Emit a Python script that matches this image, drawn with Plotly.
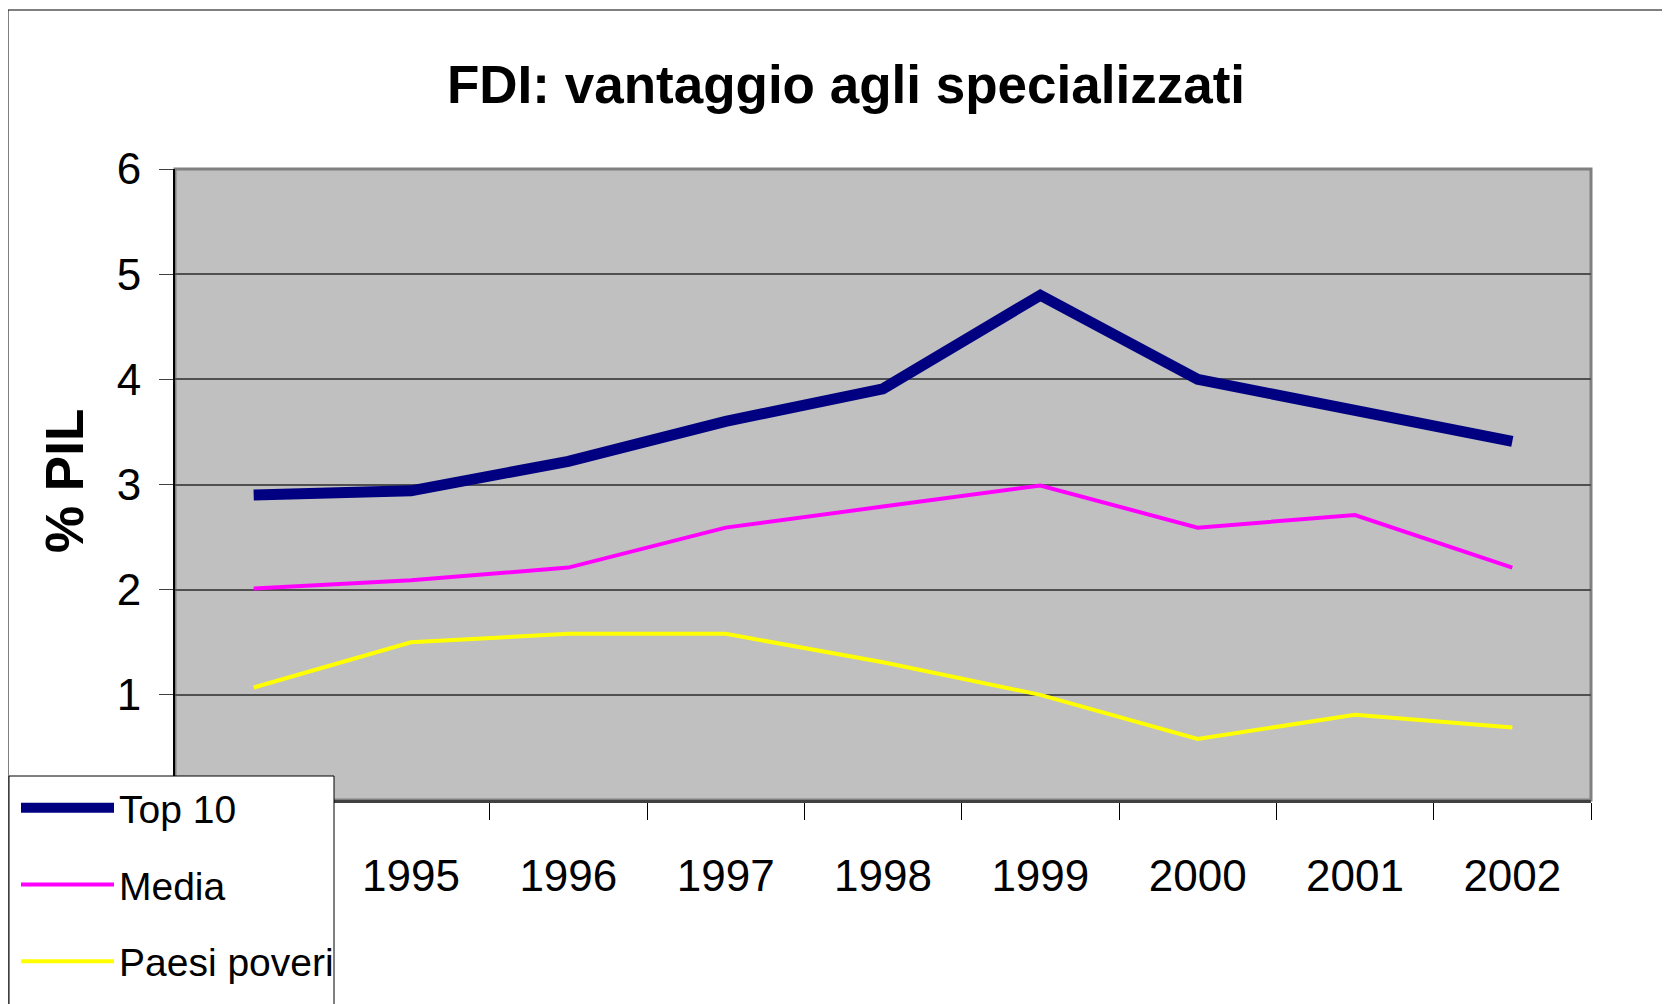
import plotly.graph_objects as go

years = ["1994", "1995", "1996", "1997", "1998", "1999", "2000", "2001", "2002"]
year_labels = ["", "1995", "1996", "1997", "1998", "1999", "2000", "2001", "2002"]
top10 = [2.90, 2.94, 3.22, 3.60, 3.91, 4.80, 4.00, 3.71, 3.41]
media = [2.01, 2.09, 2.21, 2.59, 2.79, 2.99, 2.59, 2.71, 2.21]
poveri = [1.07, 1.50, 1.58, 1.58, 1.31, 1.00, 0.58, 0.81, 0.69]
y_ticks = [1, 2, 3, 4, 5, 6]

SANS = "Liberation Sans, Arial, sans-serif"

# the page body has an 8px margin; work in screen pixels and shift
OFF = 8
W, H = 1670 - OFF, 1004 - OFF
L = 175 - OFF
T = 169 - OFF
R = W - (1591 - OFF)
B = H - (800 - OFF)
PW, PH = W - L - R, H - T - B


def px_x(x):  # screen x -> paper x
    return (x - OFF - L) / PW


def px_y(y):  # screen y -> paper y
    return (H - B - (y - OFF)) / PH


fig = go.Figure()
fig.add_trace(go.Scatter(x=years, y=top10, name="Top 10", mode="lines",
                         line=dict(color="#000080", width=11), legendgroup="a"))
fig.add_trace(go.Scatter(x=years, y=media, name="Media", mode="lines",
                         line=dict(color="#FF00FF", width=4), legendgroup="b"))
fig.add_trace(go.Scatter(x=years, y=poveri, name="Paesi poveri", mode="lines",
                         line=dict(color="#FFFF00", width=4), legendgroup="c"))

fig.update_layout(
    width=W, height=H, autosize=False,
    margin=dict(l=L, r=R, t=T, b=B, autoexpand=False),
    paper_bgcolor="white", plot_bgcolor="#C0C0C0",
    title=dict(text="<b>FDI: vantaggio agli specializzati</b>",
               font=dict(family=SANS, size=53, color="black"),
               x=(846 - OFF) / W, xanchor="center", y=1 - (84 - OFF) / H, yanchor="middle"),
    showlegend=True,
    legend=dict(x=px_x(16), xanchor="left", y=px_y(776), yanchor="top",
                bgcolor="rgba(0,0,0,0)", borderwidth=0,
                font=dict(family=SANS, size=39, color="black"),
                itemwidth=93, tracegroupgap=23, traceorder="grouped"),
    xaxis=dict(type="category", range=[-0.5, 8.5], tickson="boundaries",
               tickmode="array", tickvals=years, ticktext=year_labels,
               ticks="outside", ticklen=17, tickcolor="black", tickwidth=1,
               ticklabelstandoff=35, showgrid=False,
               showline=True, linecolor="#404040", linewidth=3,
               tickfont=dict(family=SANS, size=44, color="black"),
               zeroline=False),
    yaxis=dict(range=[0, 6], tickvals=y_ticks, ticks="outside", ticklen=14,
               tickcolor="#404040", tickwidth=1, ticklabelstandoff=9,
               showgrid=True, gridcolor="#505050", gridwidth=1.5,
               showline=True, linecolor="black", linewidth=2,
               tickfont=dict(family=SANS, size=44, color="black"),
               zeroline=False),
    shapes=[
        dict(type="rect", xref="paper", yref="paper", x0=0, x1=1, y0=0, y1=1,
             line=dict(color="#808080", width=3), layer="below"),
        dict(type="rect", xref="paper", yref="paper", x0=px_x(8), x1=px_x(1720),
             y0=px_y(1060), y1=px_y(10), line=dict(color="black", width=1),
             layer="below"),
        # legend frame (runs off the bottom of the page, as in the original)
        dict(type="rect", xref="paper", yref="paper", x0=px_x(9), x1=px_x(334),
             y0=px_y(1060), y1=px_y(776), fillcolor="white",
             line=dict(color="black", width=1), layer="above"),
    ],
    annotations=[
        dict(text="<b>% PIL</b>", xref="paper", yref="paper", x=px_x(64), y=px_y(481),
             xanchor="center", yanchor="middle", textangle=-90, showarrow=False,
             font=dict(family=SANS, size=53, color="black")),
    ],
)

fig.write_html("out.html")
